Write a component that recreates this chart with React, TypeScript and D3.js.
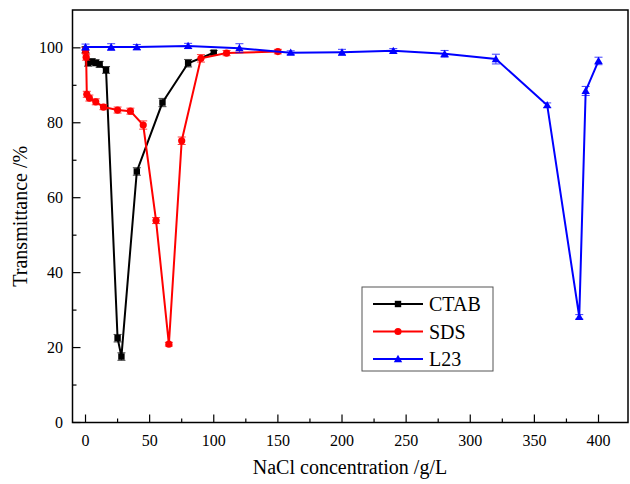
import React from "react";
import * as d3 from "d3";

const ctabX = [0, 2, 5, 8, 11, 16, 25, 28, 40, 60, 80, 100];
const ctabY = [99.5, 96, 96.3, 96, 95.6, 94.1, 22.5, 17.6, 67, 85.4, 95.9, 98.7];
const ctabErr = [0.8, 0.9, 0.8, 0.8, 0.8, 0.9, 1, 1, 1, 1.1, 1, 0.6];

const sdsX = [0, 0.5, 1, 3, 8, 14, 25, 35, 45, 55, 65, 75, 90, 110, 150];
const sdsY = [99.3, 97.5, 87.6, 86.6, 85.6, 84.2, 83.4, 83.1, 79.4, 53.9, 20.9, 75.2, 97.2, 98.6, 99.0];
const sdsErr = [0.8, 0.8, 0.8, 0.8, 0.8, 0.7, 0.8, 0.8, 1.1, 0.8, 0.5, 1, 1, 0.7, 0.6];

const l23X = [0, 20, 40, 80, 120, 160, 200, 240, 280, 320, 360, 385, 390, 400];
const l23Y = [100.2, 100.2, 100.2, 100.5, 99.9, 98.7, 98.8, 99.2, 98.4, 97.0, 84.7, 28.2, 88.5, 96.5];
const l23Err = [0.8, 0.9, 0.7, 0.7, 1.2, 0.5, 0.8, 0.6, 0.9, 1.3, 0.6, 0.6, 1.2, 1.0];

const xMajor = [0, 50, 100, 150, 200, 250, 300, 350, 400];
const xMinor = [25, 75, 125, 175, 225, 275, 325, 375];
const yMajor = [0, 20, 40, 60, 80, 100];
const yMinor = [10, 30, 50, 70, 90];

const seriesNames = ["CTAB", "SDS", "L23"];
const seriesColors = ["#000000", "#ff0000", "#0000ff"];

const W = 630, H = 484;
const left = 72.5, right = 628, top = 10, bottom = 422.5;
const FONT = "Liberation Serif, Times New Roman, Tinos, DejaVu Serif, serif";

function Marker({ kind, x, y, color }: { kind: number; x: number; y: number; color: string }) {
  if (kind === 0) return <rect x={x - 3.2} y={y - 3.2} width={6.4} height={6.4} fill={color} />;
  if (kind === 1) return <circle cx={x} cy={y} r={3.6} fill={color} />;
  const s = 4.2;
  return <path d={`M${x},${y - s}L${x + s},${y + s * 0.75}L${x - s},${y + s * 0.75}Z`} fill={color} />;
}

export default function App() {
  const x = d3.scaleLinear().domain([-10.15, 423]).range([left, right]);
  const y = d3.scaleLinear().domain([0, 110.1]).range([bottom, top]);
  const series = [
    { xs: ctabX, ys: ctabY, es: ctabErr },
    { xs: sdsX, ys: sdsY, es: sdsErr },
    { xs: l23X, ys: l23Y, es: l23Err },
  ];
  const line = d3.line<[number, number]>().x((d) => x(d[0])).y((d) => y(d[1]));
  const textStyle = { fontFamily: FONT } as React.CSSProperties;

  return (
    <svg width={W} height={H} style={{ position: "absolute", left: 0, top: 0, background: "#fff", fontFamily: FONT }}>
      <rect width={W} height={H} fill="#fff" />
      {series.map((s, i) => {
        const pts = s.xs.map((v, j) => [v, s.ys[j]] as [number, number]);
        const c = seriesColors[i];
        return (
          <g key={i}>
            <path d={line(pts) || ""} fill="none" stroke={c} strokeWidth={2} />
            {pts.map((p, j) => {
              const px = x(p[0]);
              const y1 = y(p[1] + s.es[j]);
              const y2 = y(p[1] - s.es[j]);
              return (
                <g key={j} stroke={c} strokeWidth={1} opacity={0.75}>
                  <line x1={px} x2={px} y1={y1} y2={y2} />
                  <line x1={px - 4} x2={px + 4} y1={y1} y2={y1} />
                  <line x1={px - 4} x2={px + 4} y1={y2} y2={y2} />
                </g>
              );
            })}
            {pts.map((p, j) => (
              <Marker key={j} kind={i} x={x(p[0])} y={y(p[1])} color={c} />
            ))}
          </g>
        );
      })}
      <rect x={left} y={top} width={right - left} height={bottom - top} fill="none" stroke="#000" strokeWidth={1.5} />
      {xMajor.map((t) => (
        <g key={"xm" + t}>
          <line x1={x(t)} x2={x(t)} y1={bottom} y2={bottom - 8} stroke="#000" strokeWidth={1.2} />
          <text x={x(t)} y={446} textAnchor="middle" style={textStyle} fontSize={16}>{t}</text>
        </g>
      ))}
      {xMinor.map((t) => (
        <line key={"xn" + t} x1={x(t)} x2={x(t)} y1={bottom} y2={bottom - 4} stroke="#000" strokeWidth={1.2} />
      ))}
      {yMajor.map((t) => (
        <g key={"ym" + t}>
          <line x1={left} x2={left + 8} y1={y(t)} y2={y(t)} stroke="#000" strokeWidth={1.2} />
          <text x={63} y={y(t) + 5.5} textAnchor="end" style={textStyle} fontSize={16}>{t}</text>
        </g>
      ))}
      {yMinor.map((t) => (
        <line key={"yn" + t} x1={left} x2={left + 4} y1={y(t)} y2={y(t)} stroke="#000" strokeWidth={1.2} />
      ))}
      <text x={350} y={474} textAnchor="middle" style={textStyle} fontSize={20}>NaCl concentration /g/L</text>
      <text transform={`translate(27,${(top + bottom) / 2}) rotate(-90)`} textAnchor="middle" style={textStyle} fontSize={20}>
        Transmittance /%
      </text>
      <rect x={362} y={287} width={131} height={84} fill="#fff" stroke="#555" strokeWidth={1} />
      {seriesNames.map((n, i) => {
        const ly = 304 + i * 27.5;
        return (
          <g key={n}>
            <line x1={373} x2={423} y1={ly} y2={ly} stroke={seriesColors[i]} strokeWidth={2} />
            <Marker kind={i} x={398} y={ly} color={seriesColors[i]} />
            <text x={429} y={ly + 7} style={textStyle} fontSize={20}>{n}</text>
          </g>
        );
      })}
    </svg>
  );
}
